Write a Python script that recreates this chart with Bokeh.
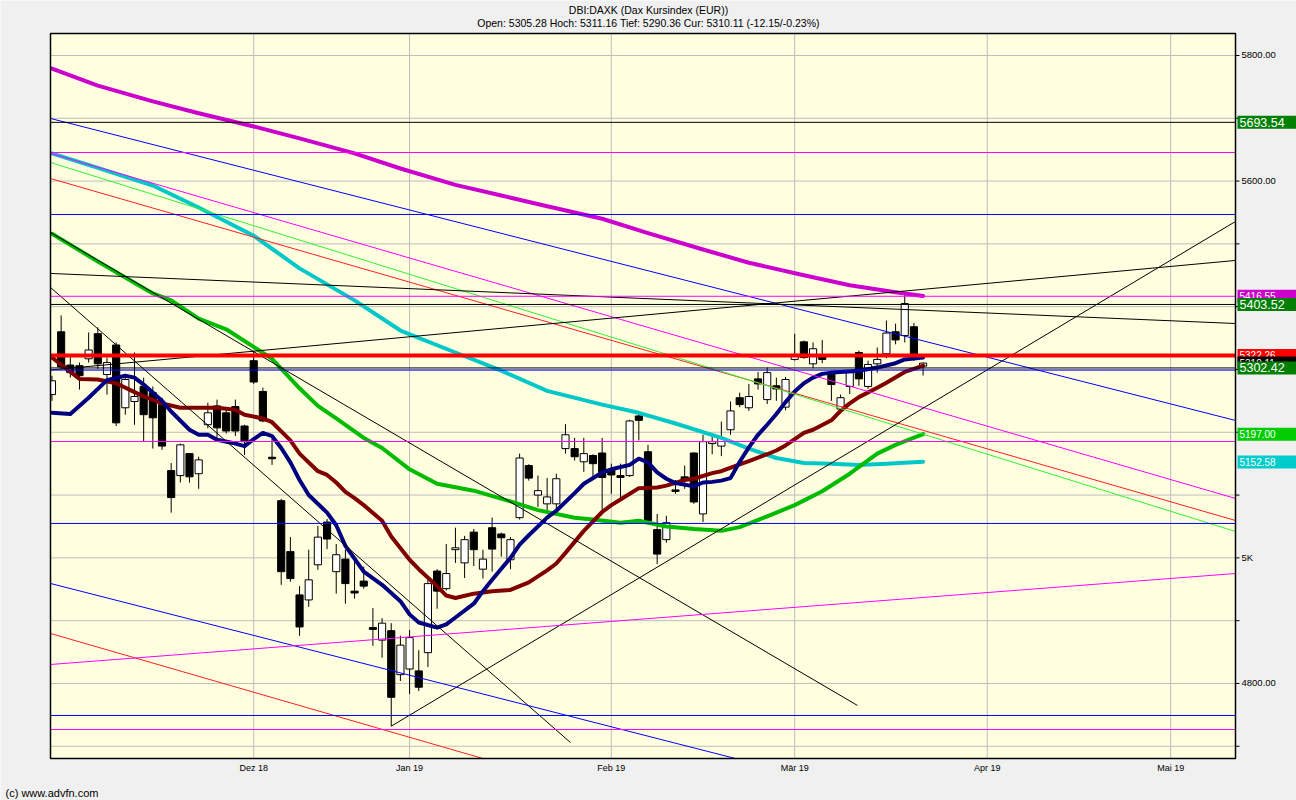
import numpy as np
from bokeh.plotting import figure
from bokeh.models import Range1d
from bokeh.embed import file_html
from bokeh.resources import INLINE
from bokeh.core.properties import value

# ---------------- data ----------------
tick_idx = [22, 39, 61, 81, 102, 122]
tick_labels = ["Dez 18", "Jan 19", "Feb 19", "Mär 19", "Apr 19", "Mai 19"]
ytick_vals = [4800, 5000, 5200, 5400, 5600, 5800]
ytick_labels = ["4800.00", "5K", "5200.00", "5400.00", "5600.00", "5800.00"]
ygrid_vals = [4700, 4800, 4900, 5000, 5100, 5200, 5300, 5400, 5500, 5600, 5700, 5800]

open_ = [5260, 5360, 5307, 5306, 5317, 5357, 5292, 5339, 5239, 5249,
         5273, 5263, 5244, 5139, 5131, 5166, 5134, 5212, 5242, 5231,
         5241, 5210, 5314, 5265, 5160, 5091, 5010, 4941, 4933, 4989,
         5057, 4978, 4998, 4947, 4963, 4889, 4869, 4884, 4814, 4823,
         4820, 4849, 4979, 4951, 5013, 4992, 5041, 4982, 5048, 5038,
         4997, 5064, 5147, 5100, 5086, 5086, 5174, 5174, 5153, 5163,
         5167, 5140, 5131, 5131, 5226, 5169, 5045, 5029, 5108, 5129,
         5167, 5070, 5182, 5178, 5204, 5255, 5239, 5285, 5252, 5274,
         5240, 5316, 5344, 5309, 5320, 5293, 5237, 5273, 5327, 5273,
         5309, 5325, 5360, 5354, 5368, 5305.28]
high = [5290, 5386, 5322, 5311, 5359, 5367, 5319, 5343, 5293, 5327,
        5287, 5273, 5255, 5151, 5182, 5167, 5161, 5247, 5252, 5239,
        5252, 5212, 5328, 5271, 5190, 5094, 5033, 4955, 5013, 5051,
        5062, 5022, 5013, 5003, 4986, 4920, 4904, 4896, 4876, 4885,
        4853, 4965, 4982, 5022, 5048, 5035, 5046, 5013, 5064, 5040,
        5033, 5166, 5149, 5131, 5127, 5134, 5213, 5191, 5191, 5165,
        5191, 5150, 5150, 5220, 5231, 5180, 5070, 5067, 5124, 5147,
        5168, 5196, 5194, 5217, 5249, 5263, 5277, 5296, 5303, 5287,
        5288, 5357, 5346, 5343, 5347, 5297, 5260, 5298, 5330, 5314,
        5335, 5378, 5373, 5422, 5374, 5311.16]
low = [5250, 5300, 5287, 5268, 5311, 5301, 5260, 5210, 5228, 5212,
       5186, 5174, 5172, 5072, 5120, 5120, 5110, 5206, 5191, 5198,
       5194, 5164, 5277, 5216, 5148, 4957, 4962, 4876, 4922, 4981,
       5014, 4943, 4927, 4935, 4951, 4860, 4841, 4732, 4804, 4783,
       4788, 4826, 4919, 4948, 4992, 4968, 4987, 4967, 4978, 5002,
       4982, 5061, 5123, 5081, 5070, 5078, 5166, 5155, 5137, 5126,
       5075, 5102, 5094, 5129, 5187, 5058, 4990, 5024, 5102, 5110,
       5086, 5057, 5165, 5162, 5196, 5240, 5234, 5268, 5245, 5250,
       5235, 5314, 5317, 5302, 5310, 5250, 5230, 5261, 5274, 5269,
       5295, 5318, 5340, 5343, 5314, 5290.36]
close = [5282, 5304, 5295, 5290, 5331, 5309, 5311, 5215, 5284, 5257,
         5228, 5223, 5178, 5096, 5180, 5129, 5156, 5231, 5207, 5202,
         5202, 5185, 5280, 5218, 5158, 4978, 4967, 4890, 4965, 5033,
         5030, 5005, 4959, 4944, 4955, 4886, 4896, 4778, 4861, 4873,
         4794, 4959, 4947, 4975, 5016, 5029, 5013, 4998, 5014, 5032,
         5029, 5159, 5127, 5107, 5097, 5126, 5196, 5161, 5166, 5150,
         5128, 5132, 5128, 5218, 5219, 5059, 5006, 5056, 5106, 5124,
         5089, 5185, 5185, 5191, 5234, 5244, 5257, 5277, 5295, 5269,
         5284, 5324, 5319, 5333, 5316, 5276, 5255, 5295, 5285, 5308,
         5316, 5358, 5347, 5405, 5322, 5310.11]

# moving averages (read at selected trading-day indices)
ma200_idx = [0, 5, 11, 16, 22, 27, 33, 38, 44, 49, 54, 60, 65, 71, 76, 82, 87, 92, 95]
ma200_val = [5779, 5752, 5727, 5708, 5687, 5668, 5644, 5620, 5594, 5577,
             5560, 5540, 5517, 5491, 5470, 5450, 5434, 5423, 5417]
ma100_idx = [0, 5, 11, 16, 22, 27, 33, 38, 44, 49, 54, 60, 64, 68, 73, 76, 79, 82, 85, 88, 91, 95]
ma100_val = [5644, 5621, 5593, 5558, 5513, 5461, 5410, 5362, 5327, 5298,
             5266, 5244, 5231, 5214, 5191, 5174, 5159, 5151, 5150, 5148, 5150, 5153]
ma50_idx = [0, 5, 11, 13, 16, 19, 22, 24, 27, 29, 31, 34, 36, 39, 42, 46, 50, 53, 57, 59,
            62, 64, 67, 70, 73, 75, 78, 81, 84, 87, 90, 92, 95]
ma50_val = [5516, 5472, 5421, 5410, 5381, 5364, 5336, 5317, 5270, 5242, 5222, 5191, 5175,
            5141, 5118, 5107, 5090, 5076, 5064, 5061, 5056, 5059, 5050, 5046, 5043, 5049,
            5066, 5084, 5106, 5134, 5166, 5180, 5197]
ma20_idx = [0, 3, 5, 7, 9, 10, 12, 14, 16, 18, 20, 21, 23, 24, 26, 27, 29, 30, 31, 32, 33,
            34, 36, 37, 39, 40, 42, 43, 44, 46, 48, 50, 52, 54, 55, 56, 58, 60, 61, 62, 64,
            66, 67, 69, 70, 72, 73, 75, 76, 78, 79, 80, 82, 83, 85, 86, 87, 88, 90, 91, 93,
            94, 95]
ma20_val = [5319, 5285, 5284, 5278, 5264, 5257, 5246, 5239, 5239, 5239, 5236, 5228, 5222,
            5216, 5187, 5166, 5138, 5132, 5120, 5105, 5095, 5084, 5059, 5034, 4997, 4982,
            4955, 4940, 4936, 4943, 4947, 4949, 4961, 4980, 4991, 5008, 5043, 5073, 5084,
            5093, 5111, 5112, 5115, 5124, 5126, 5135, 5138, 5149, 5154, 5165, 5171, 5179,
            5199, 5204, 5219, 5234, 5246, 5256, 5271, 5279, 5296, 5301, 5306]
ma10_idx = [0, 2, 4, 6, 8, 9, 10, 12, 13, 15, 16, 17, 18, 20, 21, 22, 23, 24, 25, 26, 27,
            28, 30, 31, 32, 34, 36, 38, 39, 40, 42, 43, 44, 46, 47, 48, 50, 51, 52, 54, 55,
            57, 58, 60, 61, 63, 64, 65, 66, 67, 68, 70, 71, 72, 73, 74, 75, 76, 77, 78, 79,
            80, 81, 82, 83, 84, 85, 86, 88, 90, 92, 93, 95]
ma10_val = [5231, 5229, 5255, 5283, 5290, 5287, 5276, 5250, 5233, 5204, 5196, 5196, 5188,
            5182, 5178, 5189, 5199, 5194, 5175, 5152, 5124, 5100, 5072, 5052, 5019, 4978,
            4957, 4931, 4910, 4897, 4889, 4894, 4905, 4927, 4947, 4965, 5000, 5021, 5036,
            5064, 5075, 5103, 5118, 5136, 5141, 5148, 5158, 5152, 5136, 5126, 5119, 5114,
            5120, 5121, 5123, 5127, 5153, 5176, 5196, 5212, 5229, 5248, 5265, 5278, 5287,
            5293, 5295, 5296, 5298, 5303, 5310, 5316, 5319]

# horizontal price levels
hline_val = [5693.54, 5645.5, 5546.8, 5416.55, 5403.52, 5302.42, 5299.0, 5185.3,
             5054.8, 4749.0, 4726.7]
hline_color = ["#000000", "#FF00FF", "#0000FF", "#FF00FF", "#000000", "#000000",
               "#0000FF", "#FF00FF", "#0000FF", "#0000FF", "#FF00FF"]
prev_close = 5322.26

# trend lines: (index, price) -> (index, price)
tl_x0 = [-0.16, -0.16, -0.16, -0.16, -0.16, -0.16, -0.16, -0.16, 37, -0.16, -0.16, -0.16]
tl_y0 = [5699.7, 5644.0, 5604.1, 5629.6, 5452.9, 5299.2, 5518.1, 5430.6, 4732,
         4959.2, 4879.6, 4830.2]
tl_x1 = [129.07, 129.07, 129.07, 129.07, 129.07, 129.07, 87.84, 56.54, 129.07, 129.07, 129.07, 129.07]
tl_y1 = [5218.8, 5094.6, 5059.5, 5042.0, 5373.2, 5473.6, 4765.0, 4706.0, 5535.7,
         4477.0, 4334.0, 4975.1]
tl_color = ["#0000FF", "#FF00FF", "#FF2020", "#33EE33", "#000000", "#000000",
            "#000000", "#000000", "#000000", "#0000FF", "#FF2020", "#FF00FF"]

# price tags on the right
tag_val = [5693.54, 5416.55, 5403.52, 5322.26, 5310.11, 5302.42, 5197.00, 5152.58]
tag_text = ["5693.54", "5416.55", "5403.52", "5322.26", "5310.11", "5302.42", "5197.00", "5152.58"]
tag_color = ["#008000", "#CC00CC", "#008000", "#FF0000", "#000000", "#008000", "#00CC00", "#00CCCC"]
tag_size = ["12.5px", "10px", "12.5px", "10px", "10px", "12.5px", "10px", "10px"]

title1 = "DBI:DAXK (Dax Kursindex (EUR))"
title2 = "Open: 5305.28 Hoch: 5311.16 Tief: 5290.36 Cur: 5310.11 (-12.15/-0.23%)"
footer = "(c) www.advfn.com"

# ---------------- geometry ----------------
W, H = 1296, 800
X0, X1 = -0.16, 129.07          # data extent of the plot area
Y0, Y1 = 4680.5, 5835.0
FR_L, FR_R, FR_T, FR_B = 50, 1235, 33, 758   # plot area on the canvas
XPX = (X1 - X0) / (FR_R - FR_L)   # data units per pixel
YPX = (Y1 - Y0) / (FR_B - FR_T)


def px2x(px):
    return X0 + (px - FR_L) * XPX


def py2y(py):
    return Y1 - (py - FR_T) * YPX


def clip(xa, ya, xb, yb):
    # Liang-Barsky clipping to the plot area
    dx, dy = xb - xa, yb - ya
    t0, t1 = 0.0, 1.0
    for pp, qq in ((-dx, xa - X0), (dx, X1 - xa), (-dy, ya - Y0), (dy, Y1 - ya)):
        if pp == 0:
            continue
        r = qq / pp
        if pp < 0:
            t0 = max(t0, r)
        else:
            t1 = min(t1, r)
    return xa + t0 * dx, ya + t0 * dy, xa + t1 * dx, ya + t1 * dy


p = figure(width=W, height=H, title=None,
           x_range=Range1d(px2x(0), px2x(W)), y_range=Range1d(py2y(H), py2y(0)),
           output_backend="svg", toolbar_location=None,
           x_axis_location=None, y_axis_location=None,
           min_border=0, min_border_left=0, min_border_right=0,
           min_border_top=0, min_border_bottom=0)
p.background_fill_color = "#F0F0F0"
p.border_fill_color = "#F0F0F0"
p.outline_line_color = None
p.xgrid.visible = False
p.ygrid.visible = False

FONT = value("Liberation Sans")

# plot area background
p.quad(left=[X0], right=[X1], bottom=[Y0], top=[Y1], fill_color="#FFFFE0", line_color=None)

# grid
p.segment([X0] * len(ygrid_vals), ygrid_vals, [X1] * len(ygrid_vals), ygrid_vals,
          line_color="#BDBDBD", line_width=1)
p.segment(tick_idx, [Y0] * len(tick_idx), tick_idx, [Y1] * len(tick_idx),
          line_color="#BDBDBD", line_width=1)

# candles
o = np.array(open_, float)
h = np.array(high, float)
l = np.array(low, float)
c = np.array(close, float)
x = np.arange(len(o), dtype=float)
top = np.maximum(o, c)
bot = np.minimum(o, c)
mid = (top + bot) / 2
small = (top - bot) < 2.4
top = np.where(small, mid + 1.2, top)
bot = np.where(small, mid - 1.2, bot)
up = c >= o
half = 0.39
left_e = np.maximum(x - half, X0)
right_e = x + half

p.segment(x, h, x, l, line_color="#000000", line_width=1)
p.quad(left=left_e[up], right=right_e[up], top=top[up], bottom=bot[up],
       fill_color="#FFFFFF", line_color="#000000", line_width=1)
p.quad(left=left_e[~up], right=right_e[~up], top=top[~up], bottom=bot[~up],
       fill_color="#000000", line_color="#000000", line_width=1)

# moving averages
for idx, val, col in [(ma200_idx, ma200_val, "#CC00CC"),
                      (ma100_idx, ma100_val, "#00C8C8"),
                      (ma50_idx, ma50_val, "#00BB00"),
                      (ma20_idx, ma20_val, "#800000"),
                      (ma10_idx, ma10_val, "#000080")]:
    p.line(idx, val, line_color=col, line_width=4, line_join="round", line_cap="round")

# trend lines (clipped to the plot area)
segs = [clip(a, b, cc, d) for a, b, cc, d in zip(tl_x0, tl_y0, tl_x1, tl_y1)]
p.segment([s[0] for s in segs], [s[1] for s in segs], [s[2] for s in segs], [s[3] for s in segs],
          line_color=tl_color, line_width=1)

# horizontal levels
p.segment([X0] * len(hline_val), hline_val, [X1] * len(hline_val), hline_val,
          line_color=hline_color, line_width=1)
p.segment([X0], [prev_close], [X1], [prev_close], line_color="#FF0000", line_width=4)

# frame
p.quad(left=[X0], right=[X1], bottom=[Y0], top=[Y1], fill_color=None,
       line_color="#000000", line_width=1.5)

# right-hand price axis: ticks and labels
p.segment([X1] * len(ygrid_vals), ygrid_vals, [X1 + 4 * XPX] * len(ygrid_vals), ygrid_vals,
          line_color="#000000", line_width=1)
p.text(x=[X1 + 6 * XPX] * len(ytick_vals), y=ytick_vals, text=ytick_labels,
       text_font=FONT, text_font_size="9.5px", text_color="#000000",
       text_align="left", text_baseline="middle")

# x-axis labels
p.text(x=tick_idx, y=[py2y(767)] * len(tick_idx), text=tick_labels,
       text_font=FONT, text_font_size="9px", text_color="#000000",
       text_align="center", text_baseline="middle")

# price tags (drawn top to bottom, each covering the one above)
for v, t, col, fs in zip(tag_val, tag_text, tag_color, tag_size):
    p.quad(left=[px2x(1237)], right=[px2x(W)], top=[v + 6.5 * YPX], bottom=[v - 6.5 * YPX],
           fill_color=col, line_color=None)
    p.text(x=[px2x(1239)], y=[v], text=[t], text_font=FONT, text_font_size=fs,
           text_color="#FFFFFF", text_align="left", text_baseline="middle")

# title lines and footer
p.text(x=[px2x(648)], y=[py2y(9)], text=[title1], text_font=FONT, text_font_size="10.5px",
       text_color="#000000", text_align="center", text_baseline="middle")
p.text(x=[px2x(648)], y=[py2y(22)], text=[title2], text_font=FONT, text_font_size="10.5px",
       text_color="#000000", text_align="center", text_baseline="middle")
p.text(x=[px2x(5)], y=[py2y(792)], text=[footer], text_font=FONT, text_font_size="11px",
       text_color="#000000", text_align="left", text_baseline="middle")

open("out.html", "w").write(file_html(p, INLINE))
